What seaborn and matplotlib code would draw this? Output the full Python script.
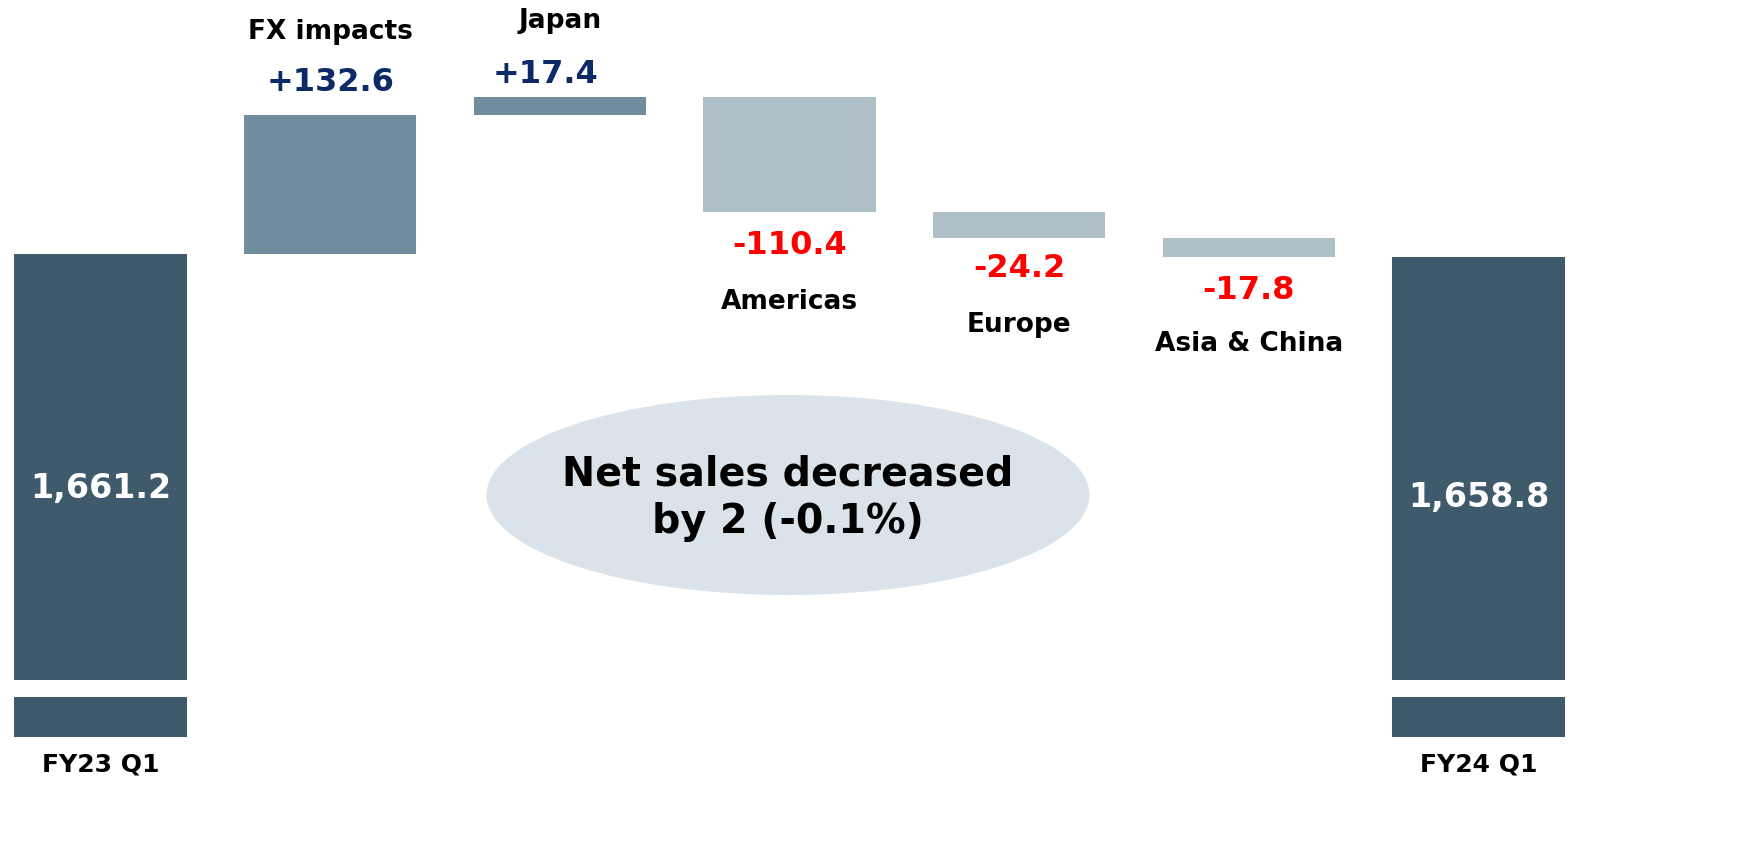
import numpy as np
import matplotlib
matplotlib.use("Agg")
import matplotlib.pyplot as plt
from matplotlib.patches import Ellipse
import seaborn as sns

# waterfall data (net sales, FY23 Q1 -> FY24 Q1)
steps = ["FY23 Q1", "FX impacts", "Japan", "Americas", "Europe", "Asia & China", "FY24 Q1"]
start_total = 1661.2
changes = [132.6, 17.4, -110.4, -24.2, -17.8]
end_total = 1658.8
change_labels = ["+132.6", "+17.4", "-110.4", "-24.2", "-17.8"]
total_labels = ["1,661.2", "1,658.8"]
summary_text = "Net sales decreased\nby 2 (-0.1%)"

# colours
total_color = "#3F5A6B"
up_color = "#728D9D"
down_color = "#AFBFC8"
pos_text = "#0B2A66"
neg_text = "#FF0000"

# build the floating bars
running = np.concatenate([[start_total], start_total + np.cumsum(changes)])
tops = [start_total]
bases = [0.0]
for i, c in enumerate(changes):
    tops.append(max(running[i], running[i + 1]))
    bases.append(min(running[i], running[i + 1]))
tops.append(end_total)
bases.append(0.0)
colors = [total_color] + [up_color if c > 0 else down_color for c in changes] + [total_color]

sns.set_style("white")
plt.rcParams["font.family"] = ["DejaVu Sans"]
plt.rcParams["font.weight"] = "bold"

W, H = 1739, 865
fig = plt.figure(figsize=(W / 100, H / 100), dpi=100)

# main (upper) part of the broken axis
ax = fig.add_axes([0, (H - 680) / H, 1, 680 / H])
sns.barplot(x=steps, y=tops, hue=steps, palette=colors, legend=False,
            width=0.75, saturation=1, linewidth=0, errorbar=None, ax=ax)
sns.barplot(x=steps, y=bases, color="white", width=0.75, saturation=1,
            linewidth=0, errorbar=None, ax=ax)
x_left = -100.5 / 229.67
x_right = (W - 100.5) / 229.67
ax.set_xlim(x_left, x_right)
ax.set_ylim(start_total - 426 / 1.05, start_total + 254 / 1.05)
ax.axis("off")

# small stub under the break
ax2 = fig.add_axes([0, (H - 737) / H, 1, 40 / H])
stub = [start_total] + [0.0] * len(changes) + [end_total]
sns.barplot(x=steps, y=stub, color=total_color, width=0.75, saturation=1,
            linewidth=0, errorbar=None, ax=ax2)
ax2.set_xlim(x_left, x_right)
ax2.set_ylim(0, 40 / 1.05)
sns.despine(ax=ax2, left=True, bottom=True)
ax2.set_yticks([])
ax2.set_xticks([0, len(steps) - 1])
ax2.set_xticklabels([steps[0], steps[-1]], fontsize=18, fontweight="bold", color="black")
ax2.tick_params(axis="x", length=0, pad=11)
ax2.set_xlabel("")

# labels for the change bars: value close to the bar, name further out
offsets = [(0, 32, 83), (-14, 22, 76), (0, 33, 90), (0, 31, 87), (0, 34, 87)]
for i, c in enumerate(changes):
    pos = i + 1
    dx, dv, dn = offsets[i]
    if c > 0:
        y = tops[pos]
        sign = 1
        col = pos_text
    else:
        y = bases[pos]
        sign = -1
        col = neg_text
    ax.annotate(change_labels[i], xy=(pos, y), xytext=(dx, sign * dv),
                textcoords="offset pixels", ha="center", va="center",
                fontsize=23, fontweight="bold", color=col, zorder=6)
    ax.annotate(steps[pos], xy=(pos, y), xytext=(0, sign * dn),
                textcoords="offset pixels", ha="center", va="center",
                fontsize=19, fontweight="bold", color="black", zorder=6)

# totals written inside the dark bars
ax.annotate(total_labels[0], xy=(0, tops[0]), xytext=(0, -234),
            textcoords="offset pixels", ha="center", va="center",
            fontsize=24, fontweight="bold", color="white", zorder=6)
ax.annotate(total_labels[1], xy=(len(steps) - 1, tops[-1]), xytext=(0, -241),
            textcoords="offset pixels", ha="center", va="center",
            fontsize=24, fontweight="bold", color="white", zorder=6)

# summary bubble
ell = Ellipse((788 / W, (680 - 495) / 680), 603 / W, 200 / 680,
              transform=ax.transAxes, facecolor="#DAE3EA", edgecolor="none", zorder=5)
ax.add_patch(ell)
ax.text(788 / W, (680 - 498) / 680, summary_text, transform=ax.transAxes,
        ha="center", va="center", fontsize=28.5, fontweight="bold",
        linespacing=1.25, color="black", zorder=6)

fig.savefig("out.png", dpi=100)
